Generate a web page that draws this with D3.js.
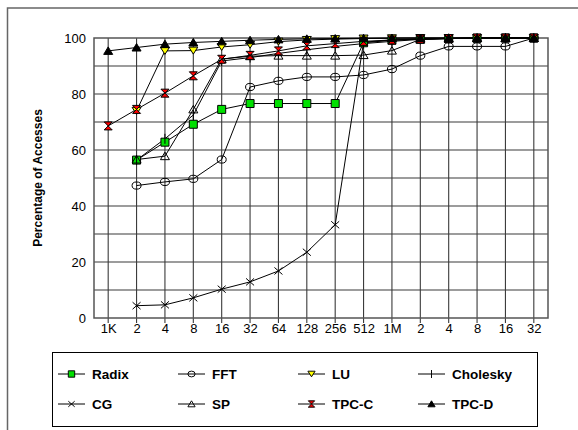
<!DOCTYPE html>
<html>
<head>
<meta charset="utf-8">
<script src="https://cdn.jsdelivr.net/npm/d3@7"></script>
<style>
  body { margin: 0; background: #fff; }
  svg { display: block; font-family: "Liberation Sans", Arial, sans-serif; }
</style>
</head>
<body>
<div id="chart"></div>
<script>
// categories (cache sizes) on the x axis
const categories = ["1K", "2", "4", "8", "16", "32", "64", "128", "256", "512", "1M", "2", "4", "8", "16", "32"];
const yTicks = [0, 20, 40, 60, 80, 100];

// percentage of accesses per series (null = no point)
const radix    = [null, 56.4, 62.8, 69.2, 74.5, 76.6, 76.6, 76.6, 76.6, 98.3, 99.2, 99.6, 99.8, 99.9, 100, 100];
const fft      = [null, 47.3, 48.6, 49.7, 56.6, 82.5, 84.7, 86.1, 86.1, 86.8, 88.9, 93.7, 97.0, 97.0, 97.0, 100];
const lu       = [null, 74.0, 95.4, 95.5, 96.8, 97.6, 98.7, 99.3, 99.6, 99.8, 99.9, 100, 100, 100, 100, 100];
const cholesky = [null, 56.4, 64.0, 72.5, 91.8, 93.0, 94.5, 95.8, 97.0, 98.0, 98.8, 99.5, 99.8, 100, 100, 100];
const cg       = [null, 4.4, 4.7, 7.2, 10.3, 12.9, 16.8, 23.5, 33.3, 98.5, 99.3, 99.7, 99.9, 100, 100, 100];
const sp       = [null, 56.6, 57.8, 74.5, 92.5, 93.5, 93.7, 93.7, 93.7, 93.9, 95.5, 99.5, 99.8, 100, 100, 100];
const tpcc     = [68.6, 74.5, 80.3, 86.5, 92.4, 93.8, 95.4, 97.2, 98.0, 98.8, 99.3, 99.6, 99.8, 100, 100, 100];
const tpcd     = [95.4, 96.6, 97.8, 98.4, 98.8, 99.2, 99.5, 99.7, 99.8, 99.9, 100, 100, 100, 100, 100, 100];

const seriesNames = ["Radix", "FFT", "LU", "Cholesky", "CG", "SP", "TPC-C", "TPC-D"];
const seriesValues = [radix, fft, lu, cholesky, cg, sp, tpcc, tpcd];

// marker shapes
const markers = {
  "Radix":    {d: "M-4,-4H4V4H-4Z", fill: "#00e000"},
  "FFT":      {d: "M-4.5,0A4.5,3.6 0 1,0 4.5,0A4.5,3.6 0 1,0 -4.5,0Z", fill: "none"},
  "LU":       {d: "M-4.5,-3.5H4.5L0,3.5Z", fill: "#ffff00"},
  "Cholesky": {d: "M0,-5V5", fill: "none"},
  "CG":       {d: "M-4,-3.5L4,3.5M-4,3.5L4,-3.5", fill: "none"},
  "SP":       {d: "M-4.5,3.5H4.5L0,-4Z", fill: "none"},
  "TPC-C":    {d: "M-4,-4H4L0,0L4,4H-4L0,0Z", fill: "#ff0000"},
  "TPC-D":    {d: "M-4.5,3.5H4.5L0,-4Z", fill: "#000"}
};

const width = 578, height = 430;
const plot = {left: 94, right: 548, top: 38, bottom: 318};

const svg = d3.select("#chart")
  .append("svg")
  .attr("width", width)
  .attr("height", height);

// outer frame (only top and left visible)
svg.append("rect")
  .attr("x", 7.5).attr("y", 8)
  .attr("width", 700).attr("height", 600)
  .attr("fill", "none")
  .attr("stroke", "#666")
  .attr("stroke-width", 1.5);

const x = d3.scalePoint()
  .domain(d3.range(categories.length))
  .range([plot.left, plot.right])
  .padding(0.5);

const y = d3.scaleLinear()
  .domain([0, 100])
  .range([plot.bottom, plot.top]);

// grid
const grid = svg.append("g").attr("stroke", "#3a3a3a").attr("stroke-width", 1.1);
grid.selectAll("line.h")
  .data(d3.range(10, 100, 10))
  .join("line")
  .attr("x1", plot.left).attr("x2", plot.right)
  .attr("y1", d => y(d)).attr("y2", d => y(d));
grid.selectAll("line.v")
  .data(d3.range(categories.length))
  .join("line")
  .attr("x1", d => x(d)).attr("x2", d => x(d))
  .attr("y1", plot.top).attr("y2", plot.bottom + 5);

// plot frame
svg.append("rect")
  .attr("x", plot.left).attr("y", plot.top)
  .attr("width", plot.right - plot.left).attr("height", plot.bottom - plot.top)
  .attr("fill", "none")
  .attr("stroke", "#555")
  .attr("stroke-width", 1.5);

// axes
const yAxis = svg.append("g")
  .attr("transform", `translate(${plot.left},0)`)
  .call(d3.axisLeft(y).tickValues(yTicks).tickSize(0).tickPadding(8));
yAxis.select(".domain").remove();
yAxis.selectAll("text").attr("font-size", 13).attr("font-family", "Liberation Sans, Arial, sans-serif").attr("fill", "#000");

const xAxis = svg.append("g")
  .attr("transform", `translate(0,${plot.bottom})`)
  .call(d3.axisBottom(x).tickSize(0).tickPadding(6).tickFormat(i => categories[i]));
xAxis.select(".domain").remove();
xAxis.selectAll("text").attr("font-size", 13).attr("font-family", "Liberation Sans, Arial, sans-serif").attr("fill", "#000");

// y title
svg.append("text")
  .attr("transform", `translate(42,${(plot.top + plot.bottom) / 2}) rotate(-90)`)
  .attr("text-anchor", "middle")
  .attr("font-size", 12)
  .attr("font-weight", "bold")
  .text("Percentage of Accesses");

// lines
const line = d3.line()
  .defined(d => d.v != null)
  .x(d => x(d.i))
  .y(d => y(d.v));

const series = seriesNames.map((name, k) => ({
  name: name,
  points: seriesValues[k].map((v, i) => ({i: i, v: v}))
}));

svg.append("g")
  .selectAll("path")
  .data(series)
  .join("path")
  .attr("d", d => line(d.points))
  .attr("fill", "none")
  .attr("stroke", "#000")
  .attr("stroke-width", 1);

// markers
series.forEach(s => {
  svg.append("g")
    .selectAll("path")
    .data(s.points.filter(p => p.v != null))
    .join("path")
    .attr("transform", p => `translate(${x(p.i)},${y(p.v)})`)
    .attr("d", markers[s.name].d)
    .attr("fill", markers[s.name].fill)
    .attr("stroke", "#000")
    .attr("stroke-width", 1);
});

// legend
const legend = svg.append("g");
legend.append("rect")
  .attr("x", 52.5).attr("y", 352.5)
  .attr("width", 485).attr("height", 74)
  .attr("fill", "#fff")
  .attr("stroke", "#000");

const legendItem = legend.selectAll("g.item")
  .data(seriesNames)
  .join("g")
  .attr("transform", (d, k) => `translate(${58 + (k % 4) * 120},${374 + Math.floor(k / 4) * 30})`);

legendItem.append("line")
  .attr("x1", 0).attr("x2", 27)
  .attr("stroke", "#000");
legendItem.append("path")
  .attr("transform", "translate(13.5,0) scale(0.8)")
  .attr("d", d => markers[d].d)
  .attr("fill", d => markers[d].fill)
  .attr("stroke", "#000")
  .attr("stroke-width", 1.2);
legendItem.append("text")
  .attr("x", 34)
  .attr("dy", "0.36em")
  .attr("font-size", 13.5)
  .attr("font-weight", "bold")
  .text(d => d);
</script>
</body>
</html>
